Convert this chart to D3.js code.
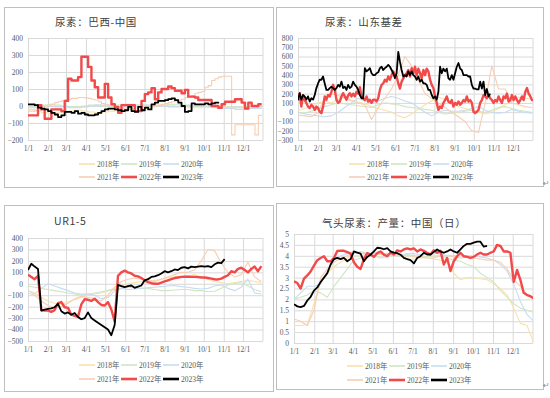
<!DOCTYPE html>
<html>
<head>
<meta charset="utf-8">
<script src="https://cdn.jsdelivr.net/npm/d3@7/dist/d3.min.js"></script>
<style>
  body { margin: 0; background: #fff; }
  svg { display: block; }
</style>
</head>
<body>
<svg id="chart" width="550" height="398"></svg>
<script>
// ---- shared categories ----
const monthLabels = ['1/1', '2/1', '3/1', '4/1', '5/1', '6/1', '7/1', '8/1', '9/1', '10/1', '11/1', '12/1'];
const monthDays = [0, 31, 59, 90, 120, 151, 181, 212, 243, 273, 304, 334];
const yearNames = ['2018年', '2019年', '2020年', '2021年', '2022年', '2023年'];

// ---- 尿素：巴西-中国 (weekly-ish samples) ----
const bz2018 = [-20, -30, -40, -45, -40, -35, -30, -25, -30, -35, -40, -35, -30, -25, -20, -15, -10, -5, 0, 5, 10, 5, 0, -5, -10, -10, -5, 0, 0, -5, -10, -10, -5, -5, -10, -10];
const bz2019 = [0, 5, 5, 10, 5, 0, -5, -5, 0, 5, 5, 0, 0, 5, 10, 10, 5, 5, 0, 0, 5, 10, 10, 5, 0, 0, -5, -5, -10, -10, -5, -10, -10, -5, -10, -10];
const bz2020 = [-10, -5, 0, 0, -5, -5, -10, -10, -5, 0, 5, 5, 0, -5, -5, 0, 5, 5, 5, 0, 0, -5, -5, 0, 5, 5, 0, -5, -10, -15, -15, -20, -20, -15, -15, -15];
const bz2021 = [-30, -30, -25, -20, -15, -5, 5, 10, 20, 25, 30, 35, 40, 45, 45, 50, 50, 48, 45, 40, 35, 25, 15, 10, 5, 0, -5, -10, -15, -20,
  -20, -25, -25, -25, -20, -15, -10, -5, 0, 5, 10, 15, 20, 25, 30, 35, 40, 50, 55, 60, 75, 80, 85, 110, 120, 150, 160, 170, 175, 175,
  175, -170, -110, -110, -110, -110, -110, -110, -170, -55, -55];
const bz2022 = [-55, -55, -55, 5, -20, -75, -75, -20, -20, -20, -30, 30, 160, 150, 150, 170, 290, 290, 230, 150,
  110, 50, 50, 130, 50, 10, -5, -40, 5, 5, 5, 5, -30, -30, 30, 70, 80, 105, 40, 80,
  100, 100, 115, 105, 90, 90, 75, 95, 55, 55, 50, 35, 35, 35, 35, 0, 0, -10, 10, 25,
  25, 25, 40, 40, 20, -15, 20, 0, 0, 10, 10];
const bz2023 = [10, 10, 5, -10, -15, -20, -30, -40, -50, -65, -55, -35, -35, -40, -30, -45, -40, -50, -55, -55,
  -50, -40, -30, -20, -15, -15, -20, -25, -30, -25, -5, -30, -35, -5, -25, -10, -20, 10, 20, 30,
  30, 35, 40, 45, 35, 20, 0, -35, -30, 15, 10, 10, 10, 15, 10, 15, 20, 15];

// ---- 尿素：山东基差 ----
const sd2018 = [20, 40, 60, 100, 120, 100, 140, 160, 130, 110, 90, 60, 40, 20, 0, -40, -60, -20, 30, 80, 120, 160, 140, 100, 60, 40, 20, 0, -20, 0, 40, 80, 120, 160, 150, 140];
const sd2019 = [0, -10, 10, 30, 60, 80, 100, 90, 80, 70, 60, 50, 80, 100, 90, 80, 60, 50, 40, 30, 20, 0, -20, -10, 0, 10, 20, 10, 0, 20, 50, 60, 40, 20, 10, 0];
const sd2020 = [0, -20, -30, -40, -50, -40, 0, 50, 100, 150, 120, 100, 120, 150, 170, 150, 120, 100, 50, 0, -40, 0, 20, 10, 10, 20, 40, 60, 20, 0, -10, 0, 30, 10, 0, -10];
const sd2021 = [-30, -40, -50, 0, 150, 200, 180, 150, 120, 100, 80, -80, 50, 150, 250, 400, 600, 500, 350, 200, 150, 100, 50, 0, -50, -100, -200, -220, 100, 500, 250, 250, 100, 80, 60, 50];
const sd2022 = [130, 205, 60, 180, 130, 100, 60, 45, 80, 60,
  25, 60, 45, 5, -10, 60, 170, 135, 185, 170,
  220, 295, 240, 135, 100, 115, 170, 205, 170, 135,
  180, 205, 170, 200, 170, 220, 200, 270, 170, 150,
  130, 170, 115, 135, 100, 135, 135, 115, 150, 240,
  295, 310, 350, 330, 385, 350, 400, 440, 400, 385,
  310, 255, 330, 365, 400, 420, 455, 385, 475, 420,
  490, 400, 470, 420, 365, 455, 400, 470, 440, 350,
  295, 260, 170, 100, 25, 60, 45, 100, 130, 170,
  115, 100, 130, 60, 100, 80, 115, 80, 100, 130,
  115, 170, 115, 130, 100, 5, -10, 5, 25, 100,
  130, 185, 170, 150, 185, 150, 130, 100, 130, 115,
  170, 130, 100, 170, 150, 200, 115, 130, 185, 130,
  170, 130, 100, 130, 170, 130, 220, 260, 200, 170,
  130, 130];
const sd2023 = [130, 205, 135, 185, 170, 135, 170, 115, 150, 135,
  185, 260, 310, 350, 350, 385, 310, 240, 240, 260,
  275, 260, 240, 260, 295, 275, 330, 260, 275, 240,
  295, 260, 275, 330, 295, 275, 240, 185, 150, 150,
  475, 440, 455, 475, 420, 400, 400, 420, 430, 475,
  490, 455, 475, 490, 510, 490, 455, 420, 365, 420,
  650, 545, 455, 385, 400, 385, 440, 400, 440, 400,
  385, 350, 385, 330, 350, 310, 310, 295, 240, 240,
  185, 150, 170, 135, 220, 490, 420, 470, 440, 470,
  365, 350, 400, 350, 420, 490, 530, 470, 455, 400,
  400, 400, 385, 385, 295, 255, 255, 245, 245, 330,
  255, 330, 185, 250, 170, 200];

// ---- UR1-5 ----
const ur2018 = [-60, -80, -120, -150, -170, -180, -160, -140, -120, -100, -90, -80, -60, -40, -20, 0, 10, 20, 20, 30, 40, 50, 60, 60, 70, 80, 60, 40, 20, 10, 0, 10, 20, 30, 20, 10];
const ur2019 = [-20, -30, -40, -50, -60, -70, -80, -90, -100, -90, -80, -70, -60, -50, -40, -30, -30, -40, -40, -50, -60, -60, -55, -50, -50, -60, -60, -70, -65, -40, -10, 0, 10, -20, -50, -70];
const ur2020 = [-60, -90, -40, 0, -20, -40, -60, -80, -90, -90, -100, -130, -120, -60, -40, -50, -45, -40, -35, -30, -25, -20, -15, -25, -30, -40, -45, -40, -20, -10, -40, -60, -30, 40, -80, -90];
const ur2021 = [-80, -100, -150, -190, -210, -200, -170, -130, -110, -120, -130, -150, -100, -30, 20, 40, 50, 40, 30, 20, 40, 60, 80, 100, 100, 120, 200, 300, 290, 180, 100, 60, 80, 190, 60, 20];
const ur2022 = [80, 60, 40, 70, -230, -235, -235, -245, -230, -170,
  -160, -205, -210, -270, -280, -290, -180, -135, -140, -150,
  -130, -160, -185, -190, -160, -225, -330, 70, 100, 115,
  100, 90, 70, 65, 50, 30, 15, 5, 0, 0,
  10, 20, 30, 40, 50, 55, 60, 62, 62, 60,
  60, 58, 55, 55, 50, 45, 40, 38, 45, 60,
  75, 110, 100, 130, 140, 120, 100, 130, 150, 110,
  155];
const ur2023 = [120, 175, 150, 130, -235, -225, -220, -215, -205, -175,
  -240, -260, -250, -270, -255, -290, -310, -300, -250, -300,
  -320, -340, -360, -380, -400, -450, -360, -10, -20, -30,
  -20, -15, -35, -25, -15, 30, 40, 60, 65, 75,
  90, 110, 100, 110, 125, 120, 140, 145, 135, 150,
  145, 150, 155, 150, 155, 145, 170, 185, 180, 215];

// ---- 气头尿素：产量：中国（日） ----
const cl2018 = [0.8, 0.8, 0.85, 1.8, 2.8, 3.2, 3.5, 3.7, 3.9, 4.0, 4.0, 4.05, 4.1, 4.1, 4.0, 4.05, 4.0, 4.0, 3.95, 3.9, 3.9, 3.85, 3.8, 3.7, 3.2, 2.9, 3.0, 3.0, 2.95, 2.9, 2.7, 2.5, 2.2, 1.6, 0.9, 0.8, 0.0];
const cl2019 = [2.0, 2.1, 2.2, 2.4, 2.3, 2.1, 2.6, 3.0, 3.4, 3.8, 3.9, 4.0, 4.0, 3.9, 3.95, 4.0, 4.0, 4.05, 4.0, 4.0, 3.95, 4.0, 4.0, 3.9, 3.8, 3.75, 3.6, 3.5, 3.2, 3.0, 2.8, 2.4, 2.1, 1.8, 1.6, 1.5, 1.4];
const cl2020 = [2.0, 2.3, 2.6, 2.6, 2.7, 3.3, 3.8, 4.0, 4.1, 4.2, 4.1, 4.1, 4.15, 4.1, 4.1, 4.0, 4.05, 4.1, 4.1, 4.05, 4.1, 4.1, 4.1, 4.0, 4.0, 4.05, 4.0, 4.0, 3.95, 3.9, 3.8, 3.6, 3.3, 2.7, 1.9, 1.3, 1.0];
const cl2021 = [1.1, 1.0, 0.8, 1.5, 3.0, 3.4, 3.7, 3.9, 4.0, 4.1, 4.2, 4.1, 4.1, 4.05, 4.1, 4.1, 4.0, 4.0, 4.0, 3.95, 3.9, 3.9, 4.0, 4.0, 3.95, 3.9, 3.95, 3.9, 3.85, 3.8, 3.8, 3.7, 3.4, 2.9, 2.6, 2.2, 2.0];
const cl2022 = [2.83, 2.75, 2.5, 2.95, 3.1, 3.28, 3.55, 3.8, 3.9, 3.98,
  3.75, 3.75, 3.9, 4.22, 4.23, 4.23, 4.17, 4.1, 3.7, 3.5,
  3.4, 3.85, 4.12, 4.06, 3.95, 4.12, 4.2, 4.05, 3.98, 4.15,
  4.06, 4.25, 4.2, 4.29, 4.34, 4.29, 4.34, 4.2, 4.29, 4.23,
  4.14, 4.06, 4.25, 4.14, 4.23, 3.6, 3.9, 3.3, 3.75, 3.98,
  4.14, 3.98, 3.95, 3.9, 3.95, 4.06, 4.14, 4.06, 4.06, 4.14,
  4.2, 4.5, 4.45, 4.2, 4.2, 4.14, 2.8, 3.35, 2.9, 2.3,
  2.2, 2.15, 2.05];
const cl2023 = [1.78, 1.68, 1.65, 1.7, 1.95, 2.12, 2.4, 2.55, 2.8, 3.0,
  3.2, 3.6, 3.85, 3.9, 3.85, 3.9, 3.75, 3.85, 4.2, 4.15,
  4.1, 3.75, 3.95, 4.05, 4.2, 4.37, 4.35, 4.3, 4.35, 4.2,
  4.15, 4.12, 4.05, 3.9, 3.85, 3.8, 3.65, 3.9, 3.98, 4.14,
  4.06, 4.06, 4.18, 4.29, 4.2, 4.14, 4.2, 4.29, 4.2, 4.14,
  4.29, 4.45, 4.55, 4.55, 4.6, 4.65, 4.65, 4.42, 4.45];

// ---- look ----
const colors = ['#f9e2a9', '#cfe6c4', '#c8dcf0', '#f8ceb2', '#f24a4a', '#000000'];
const widths = [1.1, 1.1, 1.1, 1.1, 2.4, 1.8];
const gridColor = '#d9d9d9';
const textColor = '#595959';

const panels = [
  {
    title: '尿素：巴西-中国', titleX: 55, titleY: 26,
    frame: [4.5, 7.5, 269, 180], plot: { l: 28, t: 38, r: 263, b: 140 },
    yDomain: [-200, 400], yStep: 100, fmt: d3.format('d'),
    legendX: 79, legendY: [164, 177], step: true,
    series: [[bz2018, 10.37], [bz2019, 10.37], [bz2020, 10.37], [bz2021, 5.185], [bz2022, 5.185], [bz2023, 5.185]]
  },
  {
    title: '尿素：山东基差', titleX: 325, titleY: 26,
    frame: [276.5, 7.5, 267, 179], plot: { l: 298, t: 38, r: 533, b: 140 },
    yDomain: [-300, 800], yStep: 100, fmt: d3.format('d'),
    legendX: 349, legendY: [164, 177], step: false,
    series: [[sd2018, 10.38], [sd2019, 10.38], [sd2020, 10.38], [sd2021, 10.38], [sd2022, 2.596], [sd2023, 2.596]]
  },
  {
    title: 'UR1-5', titleX: 54, titleY: 225,
    frame: [4.5, 205.5, 269, 186], plot: { l: 28, t: 238, r: 263, b: 341 },
    yDomain: [-500, 400], yStep: 100, fmt: d3.format('d'),
    legendX: 79, legendY: [365, 379], step: false,
    series: [[ur2018, 10.35], [ur2019, 10.35], [ur2020, 10.35], [ur2021, 10.35], [ur2022, 5.177], [ur2023, 5.177]]
  },
  {
    title: '气头尿素：产量：中国（日）', titleX: 322, titleY: 227,
    frame: [276.5, 203.5, 267, 186], plot: { l: 294, t: 234, r: 533, b: 343 },
    yDomain: [0, 5], yStep: 0.5, fmt: d => d3.format('~g')(d),
    legendX: 347, legendY: [366, 380], step: false,
    series: [[cl2018, 10.17], [cl2019, 10.17], [cl2020, 10.17], [cl2021, 10.17], [cl2022, 5.084], [cl2023, 5.084]]
  }
];

const svg = d3.select('#chart');

panels.forEach((p, pi) => {
  const g = svg.append('g');
  const w = p.plot.r - p.plot.l;
  const h = p.plot.b - p.plot.t;

  // Outer frame
  g.append('rect')
    .attr('x', p.frame[0]).attr('y', p.frame[1])
    .attr('width', p.frame[2]).attr('height', p.frame[3])
    .attr('fill', 'none').attr('stroke', '#bfbfbf').attr('stroke-width', 1);

  const x = d3.scaleLinear().domain([0, 365]).range([p.plot.l, p.plot.r]);
  const y = d3.scaleLinear().domain(p.yDomain).range([p.plot.b, p.plot.t]);
  const yTicks = d3.range(p.yDomain[0], p.yDomain[1] + p.yStep / 2, p.yStep);

  // Horizontal gridlines + y labels
  const yAxis = g.append('g')
    .attr('transform', 'translate(' + p.plot.l + ',0)')
    .call(d3.axisLeft(y).tickValues(yTicks).tickFormat(p.fmt).tickSize(-w).tickPadding(5));
  yAxis.select('.domain').remove();
  yAxis.selectAll('line').attr('stroke', gridColor);
  yAxis.selectAll('text').attr('fill', textColor)
    .style('font-family', '"Liberation Serif", serif').style('font-size', '7.5px');

  // Vertical gridlines at month starts + x labels
  const xAxis = g.append('g')
    .attr('transform', 'translate(0,' + p.plot.b + ')')
    .call(d3.axisBottom(x).tickValues(monthDays).tickFormat((d, i) => monthLabels[i]).tickSize(-h).tickPadding(6));
  xAxis.select('.domain').remove();
  xAxis.selectAll('line').attr('stroke', gridColor);
  xAxis.selectAll('text').attr('fill', textColor)
    .style('font-family', '"Liberation Serif", serif').style('font-size', '7.5px');

  // Right edge of plot
  g.append('line')
    .attr('x1', x(365)).attr('x2', x(365)).attr('y1', p.plot.t).attr('y2', p.plot.b)
    .attr('stroke', gridColor);

  // Clip
  g.append('clipPath').attr('id', 'clip' + pi)
    .append('rect').attr('x', p.plot.l).attr('y', p.plot.t - 4).attr('width', w).attr('height', h + 8);

  const lines = g.append('g').attr('clip-path', 'url(#clip' + pi + ')');
  p.series.forEach((s, si) => {
    const vals = s[0];
    const dayStep = s[1];
    const line = d3.line()
      .x((d, i) => x(i * dayStep))
      .y(d => y(d))
      .curve(p.step ? d3.curveStepAfter : d3.curveLinear);
    lines.append('path')
      .datum(vals)
      .attr('d', line)
      .attr('fill', 'none')
      .attr('stroke', colors[si])
      .attr('stroke-width', widths[si])
      .attr('stroke-linejoin', 'round');
  });

  // Title
  g.append('text')
    .attr('x', p.titleX).attr('y', p.titleY)
    .attr('fill', '#404040')
    .style('font-family', '"Noto Sans CJK SC", sans-serif')
    .style('font-size', '10.5px')
    .style('letter-spacing', '0.6px')
    .text(p.title);

  // Legend (3 per row)
  yearNames.forEach((name, i) => {
    const col = i % 3;
    const row = Math.floor(i / 3);
    const lx = p.legendX + col * 42;
    const ly = p.legendY[row];
    g.append('line')
      .attr('x1', lx).attr('x2', lx + 16).attr('y1', ly).attr('y2', ly)
      .attr('stroke', colors[i]).attr('stroke-width', i >= 4 ? 2.6 : 1.6);
    g.append('text')
      .attr('x', lx + 18).attr('y', ly + 2.6)
      .attr('fill', textColor)
      .style('font-family', '"Liberation Serif", "Noto Sans CJK SC", serif')
      .style('font-size', '7.5px')
      .text(name);
  });
});

// small return marks at the right edge
[[543, 186], [543, 388]].forEach(m => {
  svg.append('text').attr('x', m[0]).attr('y', m[1])
    .attr('fill', '#8c8c8c').style('font-size', '8px')
    .style('font-family', '"DejaVu Sans", sans-serif').text('↵');
});
</script>
</body>
</html>
